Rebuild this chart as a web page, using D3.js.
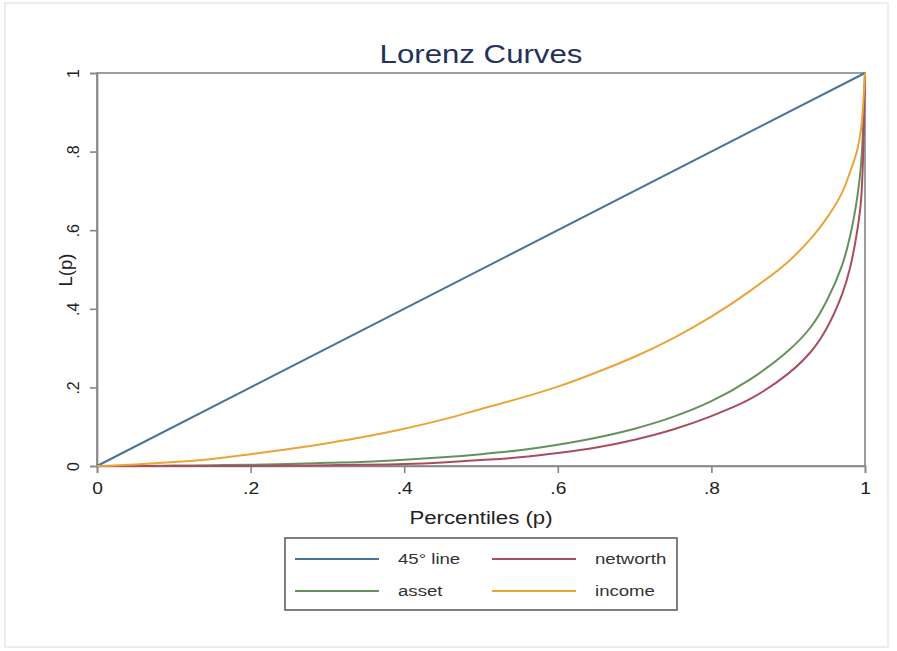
<!DOCTYPE html>
<html>
<head>
<meta charset="utf-8">
<script src="https://cdn.jsdelivr.net/npm/d3@7"></script>
<style>
  html, body { margin: 0; padding: 0; background: #fff; }
  svg { display: block; font-family: "Liberation Sans", Arial, sans-serif; }
</style>
</head>
<body>
<svg id="chart" width="897" height="651"></svg>
<script>
// ---- data ----
const percentiles = [0, .05, .1, .15, .2, .25, .3, .35, .4, .45, .5, .55, .6, .65, .7, .75, .8, .85, .9, .93, .95, .97, .98, .99, .995, 1];
const income   = [0, .004, .01, .018, .03, .043, .058, .075, .095, .118, .145, .172, .202, .238, .278, .325, .38, .445, .52, .58, .63, .695, .745, .805, .86, 1];
const asset    = [0, 0, .001, .002, .003, .005, .008, .011, .016, .022, .03, .04, .054, .072, .095, .125, .165, .22, .293, .355, .42, .51, .58, .685, .77, 1];
const networth = [0, 0, 0, 0, 0, .001, .002, .003, .005, .009, .015, .022, .033, .047, .067, .093, .127, .17, .235, .292, .35, .436, .50, .60, .68, 1];
const line45P = [0, 1];
const line45L = [0, 1];
const xTicks = [0, .2, .4, .6, .8, 1];
const yTicks = [0, .2, .4, .6, .8, 1];
const seriesNames = ["45° line", "networth", "asset", "income"];
const seriesColors = ["#4a7399", "#ab4d60", "#67915c", "#eba438"];

const fmt = v => v === 0 ? "0" : v === 1 ? "1" : String(v).replace(/^0/, "");
const SX = 1.2; // horizontal stretch of the reference's text

const svg = d3.select("#chart");
// outer faint frame
svg.append("rect").attr("x", 5).attr("y", 3).attr("width", 883).attr("height", 644)
  .attr("fill", "#fff").attr("stroke", "#e8e8e8").attr("stroke-width", 1.5);

const L = 97, R = 865, T = 73, B = 466;
const x = d3.scaleLinear().domain([0, 1]).range([L, R]);
const y = d3.scaleLinear().domain([0, 1]).range([B, T]);

const axisColor = "#868686";

// plot frame
svg.append("rect").attr("x", L).attr("y", T).attr("width", R - L).attr("height", B - T)
  .attr("fill", "none").attr("stroke", axisColor).attr("stroke-width", 1.6);

// x axis
const gx = svg.append("g").attr("transform", `translate(0,${B})`)
  .call(d3.axisBottom(x).tickValues(xTicks).tickFormat(fmt).tickSize(7).tickPadding(10));
gx.select(".domain").attr("stroke", axisColor).attr("stroke-width", 1.6);
gx.selectAll(".tick line").attr("stroke", axisColor).attr("stroke-width", 1.6);
gx.selectAll(".tick text").attr("font-size", 16).attr("fill", "#222")
  .attr("font-family", "Liberation Sans, Arial, sans-serif")
  .attr("transform", `scale(${SX},1)`);

// y axis
const gy = svg.append("g").attr("transform", `translate(${L},0)`)
  .call(d3.axisLeft(y).tickValues(yTicks).tickFormat(fmt).tickSize(7).tickPadding(10));
gy.select(".domain").attr("stroke", axisColor).attr("stroke-width", 1.6);
gy.selectAll(".tick line").attr("stroke", axisColor).attr("stroke-width", 1.6);
gy.selectAll(".tick text")
  .attr("font-size", 16).attr("fill", "#222").attr("font-family", "Liberation Sans, Arial, sans-serif")
  .attr("text-anchor", "middle").attr("x", 0).attr("y", 0).attr("dy", "0.35em")
  .attr("transform", "translate(-24,0) rotate(-90)");

// lines
const lineGen = d3.line().x(d => x(d[0])).y(d => y(d[1])).curve(d3.curveCatmullRom.alpha(0.5));
const allSeries = [
  { name: "45° line", p: line45P, v: line45L, color: seriesColors[0] },
  { name: "asset", p: percentiles, v: asset, color: seriesColors[2] },
  { name: "networth", p: percentiles, v: networth, color: seriesColors[1] },
  { name: "income", p: percentiles, v: income, color: seriesColors[3] }
];
allSeries.forEach(s => {
  svg.append("path").datum(s.p.map((p, i) => [p, s.v[i]]))
    .attr("d", lineGen).attr("fill", "none").attr("stroke", s.color).attr("stroke-width", 2);
});

// titles
svg.append("g").attr("transform", "translate(481,63)")
  .append("text").attr("transform", `scale(${SX},1)`).attr("text-anchor", "middle")
  .attr("font-size", 26).attr("fill", "#243159").text("Lorenz Curves");
svg.append("g").attr("transform", "translate(481,524)")
  .append("text").attr("transform", `scale(${SX},1)`).attr("text-anchor", "middle")
  .attr("font-size", 18.5).attr("fill", "#222").text("Percentiles (p)");
svg.append("text").attr("transform", "translate(72,270) rotate(-90)").attr("text-anchor", "middle")
  .attr("font-size", 18.5).attr("fill", "#222").text("L(p)");

// legend
const lg = svg.append("g");
lg.append("rect").attr("x", 285).attr("y", 538).attr("width", 392).attr("height", 72)
  .attr("fill", "#fff").attr("stroke", "#555").attr("stroke-width", 1.5);
const legendItems = [
  { name: seriesNames[0], color: seriesColors[0], col: 0, row: 0 },
  { name: seriesNames[1], color: seriesColors[1], col: 1, row: 0 },
  { name: seriesNames[2], color: seriesColors[2], col: 0, row: 1 },
  { name: seriesNames[3], color: seriesColors[3], col: 1, row: 1 }
];
legendItems.forEach(it => {
  const x0 = it.col === 0 ? 295 : 492;
  const ty = it.row === 0 ? 559 : 591;
  lg.append("line").attr("x1", x0).attr("x2", x0 + 84).attr("y1", ty).attr("y2", ty)
    .attr("stroke", it.color).attr("stroke-width", 2);
  lg.append("g").attr("transform", `translate(${x0 + 103},${ty})`)
    .append("text").attr("transform", `scale(${SX},1)`).attr("dy", "0.35em")
    .attr("font-size", 15.5).attr("fill", "#333").text(it.name);
});
</script>
</body>
</html>
